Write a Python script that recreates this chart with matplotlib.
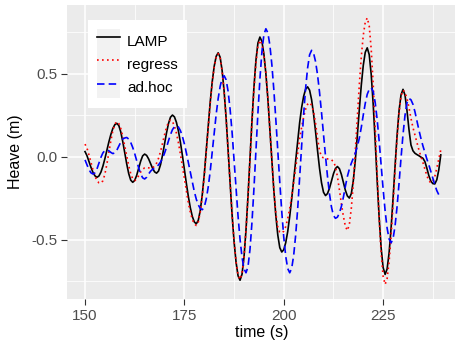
import numpy as np
import matplotlib
matplotlib.use("Agg")
import matplotlib.pyplot as plt
from matplotlib.patches import Rectangle
from matplotlib.legend_handler import HandlerLine2D

# time axis (s), sampled every 0.5 s
time = np.arange(150, 240, 0.5)

# heave (m)
lamp = [
    0.030, 0.005, -0.030, -0.065, -0.095, -0.116, -0.125, -0.117, -0.094, -0.058,
    -0.013, 0.038, 0.088, 0.133, 0.169, 0.192, 0.200, 0.187, 0.148, 0.090,
    0.023, -0.045, -0.103, -0.142, -0.155, -0.144, -0.113, -0.070, -0.028, 0.004,
    0.015, 0.007, -0.014, -0.043, -0.071, -0.092, -0.100, -0.087, -0.049, 0.008,
    0.075, 0.142, 0.199, 0.237, 0.250, 0.239, 0.206, 0.154, 0.086, 0.007,
    -0.078, -0.162, -0.241, -0.309, -0.361, -0.394, -0.405, -0.384, -0.324, -0.230,
    -0.109, 0.037, 0.183, 0.329, 0.450, 0.544, 0.604, 0.625, 0.598, 0.517,
    0.392, 0.231, 0.037, -0.157, -0.351, -0.512, -0.637, -0.718, -0.745, -0.709,
    -0.605, -0.443, -0.240, -0.012, 0.215, 0.418, 0.580, 0.684, 0.720, 0.694,
    0.618, 0.500, 0.348, 0.164, -0.019, -0.203, -0.355, -0.473, -0.549, -0.575,
    -0.561, -0.518, -0.451, -0.360, -0.254, -0.138, -0.018, 0.100, 0.205, 0.296,
    0.363, 0.406, 0.420, 0.400, 0.343, 0.256, 0.150, 0.036, -0.071, -0.158,
    -0.215, -0.235, -0.223, -0.191, -0.148, -0.104, -0.072, -0.060, -0.073, -0.108,
    -0.155, -0.203, -0.237, -0.250, -0.223, -0.144, -0.024, 0.124, 0.281, 0.429,
    0.549, 0.628, 0.655, 0.614, 0.495, 0.314, 0.091, -0.146, -0.369, -0.550,
    -0.669, -0.710, -0.677, -0.580, -0.431, -0.250, -0.056, 0.126, 0.275, 0.372,
    0.405, 0.370, 0.277, 0.163, 0.070, 0.035, 0.020, 0.012, 0.005, -0.003,
    -0.010, -0.030, -0.070, -0.115, -0.148, -0.163, -0.165, -0.140, -0.080, 0.010,
]

regress = [
    0.075, 0.050, 0.010, -0.035, -0.080, -0.118, -0.145, -0.158, -0.160, -0.146,
    -0.106, -0.046, 0.025, 0.096, 0.156, 0.196, 0.210, 0.199, 0.169, 0.121,
    0.063, 0.002, -0.056, -0.103, -0.134, -0.145, -0.135, -0.115, -0.093, -0.077,
    -0.068, -0.066, -0.068, -0.070, -0.068, -0.058, -0.040, -0.010, 0.030, 0.080,
    0.130, 0.175, 0.207, 0.220, 0.211, 0.184, 0.141, 0.083, 0.015, -0.059,
    -0.136, -0.211, -0.278, -0.336, -0.379, -0.406, -0.415, -0.394, -0.333, -0.239,
    -0.118, 0.029, 0.176, 0.322, 0.444, 0.538, 0.599, 0.620, 0.593, 0.513,
    0.389, 0.229, 0.037, -0.157, -0.349, -0.509, -0.633, -0.713, -0.740, -0.705,
    -0.603, -0.443, -0.243, -0.020, 0.203, 0.403, 0.562, 0.665, 0.700, 0.677,
    0.609, 0.504, 0.350, 0.165, -0.020, -0.200, -0.340, -0.425, -0.455, -0.460,
    -0.450, -0.421, -0.374, -0.312, -0.242, -0.155, -0.068, 0.020, 0.107, 0.177,
    0.239, 0.286, 0.315, 0.325, 0.310, 0.270, 0.200, 0.110, 0.035, 0.000,
    -0.008, -0.012, -0.014, -0.016, -0.020, -0.030, -0.060, -0.120, -0.200, -0.285,
    -0.360, -0.420, -0.445, -0.410, -0.310, -0.160, 0.030, 0.230, 0.430, 0.600,
    0.730, 0.810, 0.835, 0.787, 0.647, 0.434, 0.172, -0.107, -0.369, -0.582,
    -0.722, -0.770, -0.735, -0.633, -0.478, -0.287, -0.083, 0.108, 0.263, 0.365,
    0.400, 0.385, 0.350, 0.295, 0.230, 0.175, 0.130, 0.085, 0.040, 0.000,
    -0.035, -0.075, -0.115, -0.145, -0.158, -0.150, -0.120, -0.070, -0.015, 0.040,
]

adhoc = [
    -0.020, -0.050, -0.078, -0.098, -0.105, -0.098, -0.075, -0.040, -0.005, 0.022,
    0.037, 0.040, 0.035, 0.025, 0.018, 0.022, 0.038, 0.062, 0.087, 0.106,
    0.112, 0.115, 0.105, 0.085, 0.055, 0.018, -0.025, -0.068, -0.104, -0.128,
    -0.135, -0.125, -0.105, -0.088, -0.077, -0.070, -0.062, -0.050, -0.033, -0.010,
    0.020, 0.055, 0.095, 0.132, 0.162, 0.180, 0.185, 0.178, 0.156, 0.122,
    0.076, 0.022, -0.037, -0.098, -0.157, -0.211, -0.257, -0.291, -0.313, -0.320,
    -0.304, -0.256, -0.183, -0.088, 0.026, 0.141, 0.255, 0.350, 0.423, 0.471,
    0.487, 0.463, 0.393, 0.285, 0.146, -0.022, -0.191, -0.359, -0.498, -0.606,
    -0.676, -0.700, -0.664, -0.560, -0.397, -0.193, 0.035, 0.263, 0.467, 0.630,
    0.734, 0.770, 0.745, 0.672, 0.555, 0.403, 0.225, 0.035, -0.155, -0.333,
    -0.485, -0.602, -0.675, -0.700, -0.673, -0.594, -0.472, -0.315, -0.125, 0.065,
    0.255, 0.412, 0.534, 0.613, 0.640, 0.623, 0.572, 0.492, 0.387, 0.265,
    0.134, 0.003, -0.119, -0.224, -0.304, -0.355, -0.372, -0.365, -0.340, -0.300,
    -0.245, -0.180, -0.120, -0.075, -0.040, -0.010, 0.020, 0.060, 0.110, 0.175,
    0.250, 0.320, 0.375, 0.405, 0.415, 0.392, 0.326, 0.222, 0.093, -0.053,
    -0.197, -0.327, -0.431, -0.497, -0.520, -0.494, -0.418, -0.303, -0.161, -0.009,
    0.133, 0.248, 0.324, 0.350, 0.342, 0.315, 0.270, 0.215, 0.160, 0.110,
    0.065, 0.025, -0.015, -0.050, -0.090, -0.130, -0.170, -0.205, -0.230, -0.242,
]

x_major = [150, 175, 200, 225]
x_minor = [162.5, 187.5, 212.5, 237.5]
y_major = [-0.5, 0.0, 0.5]
y_major_labels = ["-0.5", "0.0", "0.5"]
y_minor = [-0.75, -0.25, 0.25, 0.75]

plt.rcParams['font.family'] = ['Liberation Sans', 'DejaVu Sans']


# legend key with a light grey background, like ggplot
class KeyHandler(HandlerLine2D):
    def create_artists(self, legend, orig_handle, xdescent, ydescent,
                       width, height, fontsize, trans):
        arts = super().create_artists(legend, orig_handle, xdescent, ydescent,
                                      width, height, fontsize, trans)
        bg = Rectangle((-xdescent, -ydescent), width, height,
                       facecolor='#F2F2F2', edgecolor='none')
        bg.set_transform(trans)
        return [bg] + list(arts)


fig = plt.figure(figsize=(4.56, 3.42), dpi=100)
ax = fig.add_axes([67 / 456, 43 / 342, 389 / 456, 294 / 342])
ax.set_facecolor('#EBEBEB')
for s in ax.spines.values():
    s.set_visible(False)

lw = 1.2
ax.plot(time, lamp, color='black', lw=lw, label='LAMP')
ax.plot(time, regress, color='#FF0000', lw=lw, dashes=(1, 2), label='regress')
ax.plot(time, adhoc, color='#0000FF', lw=lw, dashes=(4.5, 2.5), label='ad.hoc')

ax.set_xlim(145.47, 243.33)
ax.set_ylim(-0.858, 0.913)
ax.set_xticks(x_major)
ax.set_xticks(x_minor, minor=True)
ax.set_yticks(y_major, y_major_labels)
ax.set_yticks(y_minor, minor=True)
ax.tick_params(which='major', length=4, width=0.8, color='#333333',
               labelcolor='#4D4D4D', labelsize=11, pad=3)
ax.tick_params(which='minor', length=0)
ax.grid(which='major', color='white', lw=1.1)
ax.grid(which='minor', color='white', lw=0.55)
ax.set_axisbelow(True)

ax.set_xlabel('time (s)', fontsize=11.5, labelpad=1.5)
ax.set_ylabel('Heave (m)', fontsize=11.5, labelpad=6)

leg = ax.legend(loc='upper left', bbox_to_anchor=(0.054, 0.949),
                borderaxespad=0, fontsize=11, frameon=True, fancybox=False,
                framealpha=1, edgecolor='none', facecolor='white',
                handlelength=1.5, handleheight=1.95, labelspacing=0,
                handletextpad=0.45, borderpad=0.6,
                handler_map={matplotlib.lines.Line2D: KeyHandler()})

fig.savefig('out.png', dpi=100)
